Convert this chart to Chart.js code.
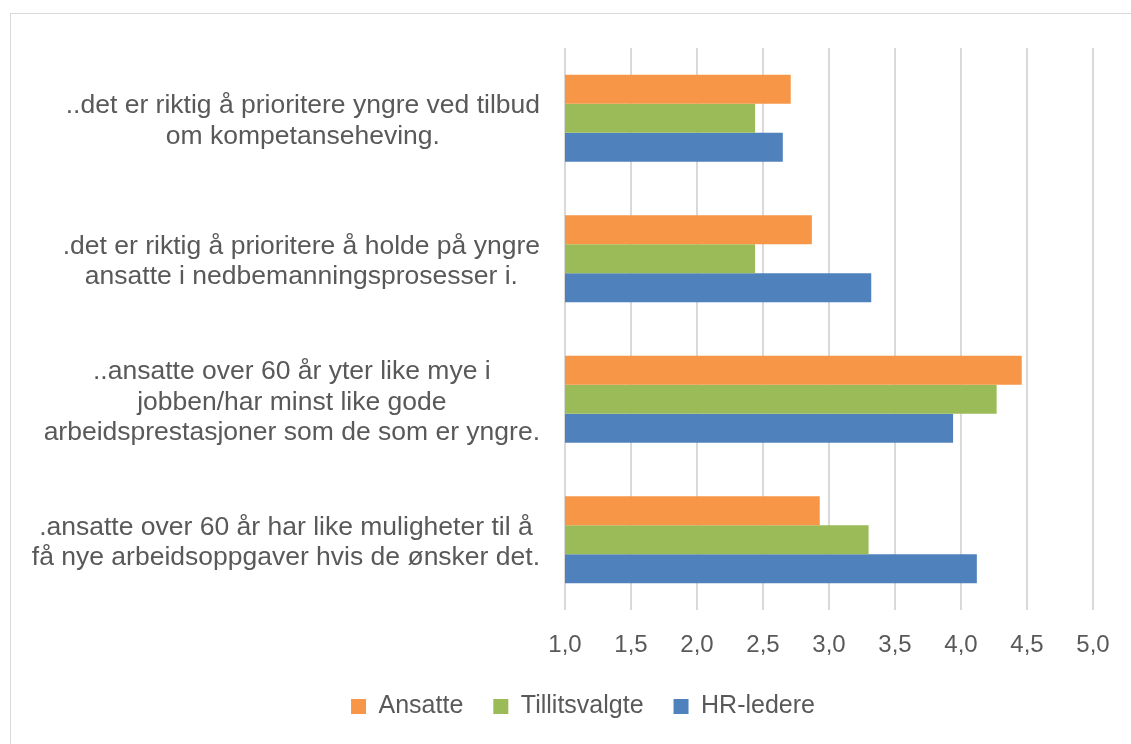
<!doctype html>
<html lang="no"><head>
<meta charset="utf-8"/>
<title>HR-ledere, tillitsvalgte og ansatte</title>
<script src="https://cdn.jsdelivr.net/npm/chart.js@4.4.6/dist/chart.umd.min.js"></script>
<style>
  *{box-sizing:content-box}
  body{margin:0;background:#fff;overflow:hidden}
  .frame{position:absolute;left:10px;top:13px;width:1144px;height:734px;border:1px solid #d9d9d9;background:#fff}
  canvas{display:block}
</style></head>
<body>
<div class="frame"><canvas id="c" width="1144" height="734"></canvas></div>
<script>
// data, top category first
const categories = [
  ['..det er riktig å prioritere yngre ved tilbud', 'om kompetanseheving.'],
  ['.det er riktig å prioritere å holde på yngre', 'ansatte i nedbemanningsprosesser i.'],
  ['..ansatte over 60 år yter like mye i', 'jobben/har minst like gode', 'arbeidsprestasjoner som de som er yngre.'],
  ['.ansatte over 60 år har like muligheter til å', 'få nye arbeidsoppgaver hvis de ønsker det.']
];
const ansatte       = [2.71, 2.87, 4.46, 2.93];
const tillitsvalgte = [2.44, 2.44, 4.27, 3.30];
const hrLedere      = [2.65, 3.32, 3.94, 4.12];
const xTicks = [1.0, 1.5, 2.0, 2.5, 3.0, 3.5, 4.0, 4.5, 5.0];

const INK = '#595959', GRID = '#d9d9d9';
const FAMILY = '"Liberation Sans", Arial, Helvetica, sans-serif';
const LABEL_FONT = '26.5px ' + FAMILY;

// Excel-style category labels: each block right aligned, its lines centred within it
const catLabels = {
  id: 'catLabels',
  afterDraw(chart) {
    const { ctx, scales: { y } } = chart;
    ctx.save();
    ctx.font = LABEL_FONT; ctx.fillStyle = INK;
    ctx.textAlign = 'center'; ctx.textBaseline = 'middle';
    const right = y.right - 25;
    categories.forEach((lines, i) => {
      const w = Math.max(...lines.map(l => ctx.measureText(l).width));
      const cx = right - w / 2;
      const yc = y.getPixelForValue(i) + 3;
      lines.forEach((l, j) => ctx.fillText(l, cx, yc + (j - (lines.length - 1) / 2) * 30.5));
    });
    ctx.restore();
  }
};

new Chart(document.getElementById('c'), {
  type: 'bar',
  data: {
    labels: categories,
    datasets: [
      { label: 'Ansatte', data: ansatte, backgroundColor: '#f79646' },
      { label: 'Tillitsvalgte', data: tillitsvalgte, backgroundColor: '#9bbb59' },
      { label: 'HR-ledere', data: hrLedere, backgroundColor: '#4f81bd' }
    ]
  },
  options: {
    indexAxis: 'y',
    responsive: false,
    animation: false,
    devicePixelRatio: 1,
    datasets: { bar: { categoryPercentage: 0.62, barPercentage: 1 } },
    // symmetric side padding keeps the legend centred on the frame
    layout: { padding: { top: 34, right: 62, left: 62, bottom: 19 } },
    plugins: {
      tooltip: { enabled: false },
      legend: {
        position: 'bottom',
        labels: {
          color: INK, font: { family: FAMILY, size: 25 },
          boxWidth: 15, boxHeight: 15, padding: 30
        }
      }
    },
    scales: {
      x: {
        min: 1, max: 5,
        afterBuildTicks: s => { s.ticks = xTicks.map(v => ({ value: v })); },
        afterFit: s => { s.height = 54; },
        ticks: {
          color: INK, font: { family: FAMILY, size: 24 }, padding: 21,
          callback: v => v.toFixed(1).replace('.', ',')
        },
        grid: { color: GRID, lineWidth: 2, drawTicks: false },
        border: { display: false }
      },
      y: {
        afterFit: s => { s.width = 492; },
        ticks: { display: false },
        grid: { display: false },
        border: { display: false }
      }
    }
  },
  plugins: [catLabels]
});
</script>
</body></html>
